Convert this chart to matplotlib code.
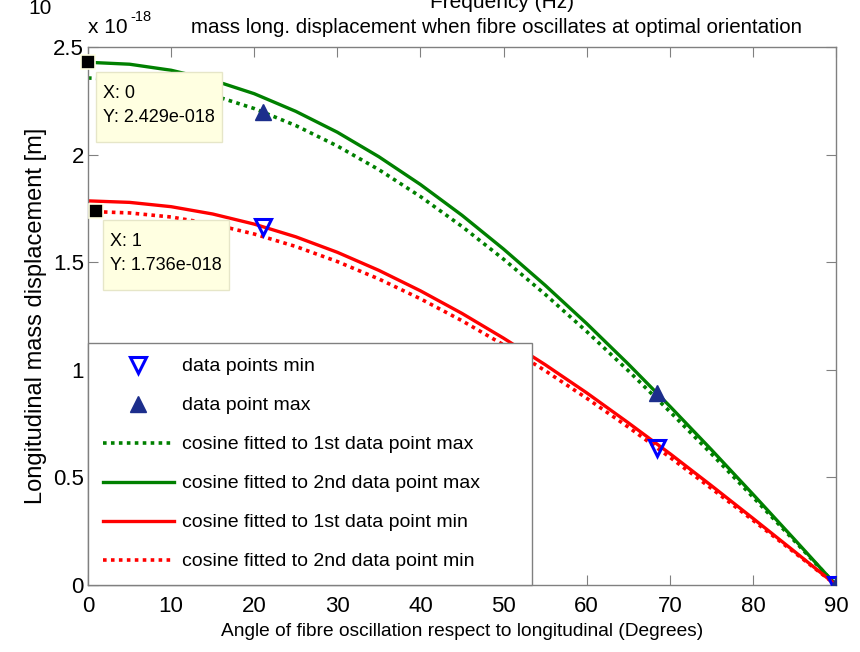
import matplotlib
matplotlib.use("Agg")
import matplotlib.pyplot as plt
from matplotlib.path import Path

# angles (degrees) at which the fitted cosines are evaluated
angles = [0, 5, 10, 15, 20, 25, 30, 35, 40, 45, 50, 55, 60, 65, 70, 75, 80, 85, 90]

# measured displacement (x 1e-18 m)
pt_angles = [21.1, 68.5, 90]
pts_min = [1.664, 0.637, 0.0]
pts_max = [2.198, 0.892, 0.0]

# cosine fits (x 1e-18 m)
fit_max_1st = [2.356, 2.347, 2.320, 2.276, 2.214, 2.135, 2.040, 1.930, 1.805, 1.666,
               1.514, 1.351, 1.178, 0.996, 0.806, 0.610, 0.409, 0.205, 0.0]
fit_max_2nd = [2.429, 2.420, 2.392, 2.346, 2.283, 2.201, 2.104, 1.990, 1.861, 1.718,
               1.561, 1.393, 1.215, 1.027, 0.831, 0.629, 0.422, 0.212, 0.0]
fit_min_1st = [1.785, 1.778, 1.758, 1.724, 1.677, 1.618, 1.546, 1.462, 1.367, 1.262,
               1.147, 1.024, 0.893, 0.754, 0.611, 0.462, 0.310, 0.156, 0.0]
fit_min_2nd = [1.736, 1.729, 1.710, 1.677, 1.631, 1.573, 1.503, 1.422, 1.330, 1.228,
               1.116, 0.996, 0.868, 0.734, 0.594, 0.449, 0.301, 0.151, 0.0]

# data cursors
tip_x = [0, 1]
tip_y = [2.429, 1.736]

plt.rcParams["font.family"] = ["Liberation Sans", "DejaVu Sans"]


def tip_box(x0, y0, width, height, mutation_size):
    # datatip frame: narrow at the sides, roomier above and below
    px, top, bot = 0.4 * mutation_size, 0.72 * mutation_size, 0.88 * mutation_size
    xa, xb = x0 - px, x0 + width + px
    ya, yb = y0 - bot, y0 + height + top
    return Path([(xa, ya), (xb, ya), (xb, yb), (xa, yb), (xa, ya)],
                closed=True)


fig = plt.figure(figsize=(8.6, 6.52), dpi=100)
ax = fig.add_axes([88 / 860, 67 / 652, 748 / 860, 538 / 652])

green = "#008000"
red = "#ff0000"
navy = "#1c2e8c"
dot = (0, (1, 1.2))

ax.plot(pt_angles, pts_min, "v", ms=12, mfc="none", mec="#0000ff", mew=2.2,
        label="data points min", zorder=5)
ax.plot(pt_angles, pts_max, "^", ms=12, mfc=navy, mec=navy,
        label="data point max", zorder=5)
ax.plot(angles, fit_max_1st, color=green, lw=2.6, ls=dot,
        label="cosine fitted to 1st data point max")
ax.plot(angles, fit_max_2nd, color=green, lw=2.4,
        label="cosine fitted to 2nd data point max")
ax.plot(angles, fit_min_1st, color=red, lw=2.4,
        label="cosine fitted to 1st data point min")
ax.plot(angles, fit_min_2nd, color=red, lw=2.6, ls=dot,
        label="cosine fitted to 2nd data point min")

# data cursor markers and boxes
ax.plot(tip_x, tip_y, "s", ms=10, mfc="black", mec="#ffffe1", mew=1.2,
        zorder=8, clip_on=False)
for x, y, off in zip(tip_x, tip_y, [(15, -23), (14, -22)]):
    ax.annotate(f"X: {x}\nY: {y:.3f}e-018", xy=(x, y), xytext=off,
                textcoords="offset pixels", ha="left", va="top",
                fontsize=13, linespacing=1.5, zorder=9,
                bbox=dict(boxstyle=tip_box, fc="#ffffe1", ec="#e6e6c8", lw=1))

ax.set_xlim(0, 90)
ax.set_ylim(0, 2.5)
ax.set_xticks(range(0, 91, 10))
ax.set_yticks([0, 0.5, 1, 1.5, 2, 2.5])
ax.set_yticklabels(["0", "0.5", "1", "1.5", "2", "2.5"])
ax.tick_params(direction="in", length=7, width=0.8, top=True, right=True,
               labelsize=16, colors="#808080", labelcolor="black", pad=3)
ax.tick_params(axis="x", pad=8)
for s in ax.spines.values():
    s.set_color("#808080")
    s.set_linewidth(1)

ax.set_xlabel("Angle of fibre oscillation respect to longitudinal (Degrees)",
              fontsize=13.8, labelpad=4)
ax.set_ylabel("Longitudinal mass displacement [m]", fontsize=17, labelpad=4)

fig.text(88 / 860, 1 - 33 / 652, "x 10", fontsize=15, ha="left",
         va="baseline")
fig.text(130 / 860, 1 - 21 / 652, "-18", fontsize=10.5, ha="left",
         va="baseline")
fig.text(497 / 860, 1 - 33 / 652,
         "mass long. displacement when fibre oscillates at optimal orientation",
         fontsize=14.8, ha="center", va="baseline")
# leftovers of the plot above
fig.text(28 / 860, 1 - 14 / 652, "10", fontsize=15, ha="left", va="baseline")
fig.text(502 / 860, 1 - 8 / 652, "Frequency (Hz)", fontsize=15, ha="center",
         va="baseline")

leg = ax.legend(loc="lower left", bbox_to_anchor=(0, 0, 444 / 748, 0.4),
                mode="expand", borderaxespad=0,
                fontsize=14, handlelength=3.65, labelspacing=1.1,
                borderpad=0.75, handletextpad=0.46, fancybox=False,
                framealpha=1, edgecolor="#808080")
leg.get_frame().set_linewidth(1)

fig.savefig("out.png", dpi=100)
